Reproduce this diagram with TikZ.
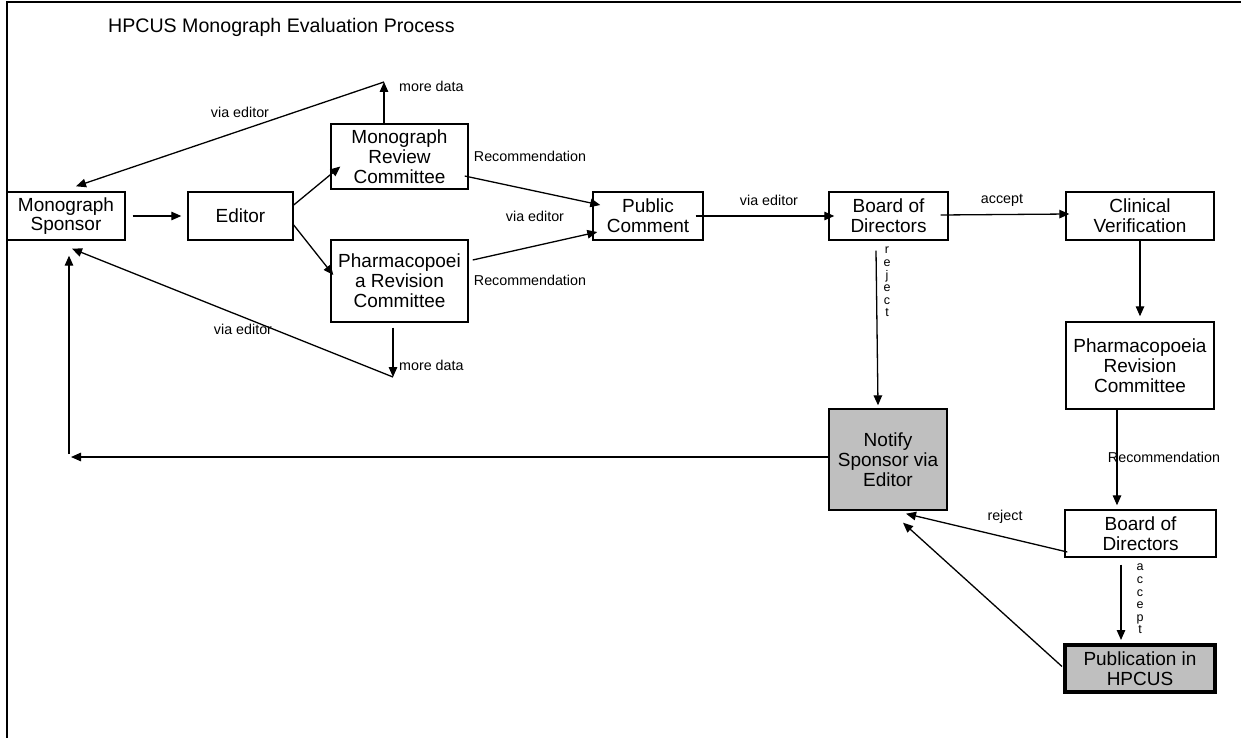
\documentclass[tikz,border=0pt]{standalone}
\usepackage{fontspec}
\setmainfont{Liberation Sans}
\usetikzlibrary{arrows.meta,calc}
\begin{document}
\begin{tikzpicture}[x=1pt,y=-1pt,
  box/.style={draw=black,line width=1.4pt,align=center,inner sep=0pt,
    font=\fontsize{19}{19.8}\selectfont},
  grayfill/.style={fill=black!25},
  conn/.style={draw=black,line width=1.3pt},
  arr/.style={conn,-{Triangle[length=10pt,width=8.5pt]}},
  lbl/.style={font=\fontsize{14.3}{15}\selectfont,inner sep=0pt},
  vlbl/.style={font=\fontsize{12.5}{12.6}\selectfont,inner sep=0pt,align=center}]
\useasboundingbox (0,0) rectangle (1241,738);
% frame
\draw[line width=2pt] (7,738) -- (7,2) -- (1241,2);
\node[anchor=west,font=\fontsize{19.6}{20}\selectfont,inner sep=0pt] (title) at (108,27) {HPCUS Monograph Evaluation Process};
% nodes
\node[box,minimum width=118pt,minimum height=48pt] (sp) at (66,216) {Monograph\\Sponsor};
\node[box,minimum width=105pt,minimum height=48pt] (ed) at (240.5,216) {Editor};
\node[box,minimum width=137pt,minimum height=65pt] (mrc) at (399.5,156.5) {Monograph\\Review\\Committee};
\node[box,minimum width=137pt,minimum height=82pt] (prc) at (399.5,281) {Pharmacopoei\\a Revision\\Committee};
\node[box,minimum width=110pt,minimum height=48pt] (pc) at (648,216) {Public\\Comment};
\node[box,minimum width=119pt,minimum height=48pt] (bd1) at (888.5,216) {Board of\\Directors};
\node[box,minimum width=148pt,minimum height=48pt] (cv) at (1140,216) {Clinical\\Verification};
\node[box,minimum width=148pt,minimum height=87pt] (prc2) at (1140,365.5) {Pharmacopoeia\\Revision\\Committee};
\node[box,grayfill,minimum width=118pt,minimum height=101pt] (nt) at (888,459.5) {Notify\\Sponsor via\\Editor};
\node[box,minimum width=151pt,minimum height=47pt] (bd2) at (1140.5,533.5) {Board of\\Directors};
\node[box,grayfill,line width=4pt,minimum width=150pt,minimum height=47pt] (pub) at (1140,668.5) {Publication in\\HPCUS};
% free-end coordinates
\coordinate (md1) at (384,82);
\coordinate (md2) at (393,377);
\coordinate (lc) at (71,457);
\coordinate (lcv) at (69,454);
% connectors
\draw[arr,shorten <=7pt,shorten >=6pt] (sp.east) -- (ed.west);
\draw[arr] ($(ed.east)+(0,-11)$) -- ($(mrc.west)+(10,10)$);
\draw[arr] ($(ed.east)+(0,9)$) -- ($(prc.west)+(3,-6)$);
\draw[arr] ($(mrc.east)+(-4,19.5)$) -- ($(pc.west)+(8,-11)$);
\draw[arr] ($(prc.east)+(4,-21)$) -- ($(pc.west)+(5,16)$);
\draw[arr] ($(mrc.north)+(-15.5,0)$) -- (md1);
\draw[arr] (md1) -- ($(sp.north)+(10,-5)$);
\draw[arr] ($(prc.south)+(-6.5,5)$) -- (md2);
\draw[arr] (md2) -- ($(sp.south)+(6,8)$);
\draw[arr] ($(pc.east)+(-8,0)$) -- ($(bd1.west)+(6,0)$);
\draw[arr] ($(bd1.east)+(-8,-1)$) -- ($(cv.west)+(4,-2)$);
\draw[arr,shorten >=5pt] (cv.south) -- (prc2.north);
\draw[arr] ($(bd1.south)+(-12.5,10)$) -- ($(nt.north)+(-10,-3)$);
\draw[arr] ($(nt.west)+(0,-2.5)$) -- (lc);
\draw[arr] (lcv) -- ($(sp.south)+(3,15)$);
\draw[arr] ($(prc2.south)+(-23,0)$) -- ($(bd2.north)+(-23.5,-4)$);
\draw[arr] ($(bd2.west)+(3,18.5)$) -- ($(nt.south)+(18,3)$);
\draw[arr] ($(bd2.south)+(-19.5,7)$) -- ($(pub.north)+(-19,-3)$);
\draw[arr] ($(pub.west)+(-1,-2)$) -- ($(nt.south)+(15,12)$);
% labels
\node[lbl] (l1) at (240,112) {via editor};
\node[lbl] (l2) at (243,329) {via editor};
\node[lbl,anchor=west] (l3) at (399,86) {more data};
\node[lbl,anchor=west] (l4) at (399,365) {more data};
\node[lbl] (l5) at (530,156) {Recommendation};
\node[lbl] (l6) at (530,280) {Recommendation};
\node[lbl] (l7) at (535,216) {via editor};
\node[lbl] (l8) at (769,200) {via editor};
\node[lbl] (l9) at (1002,200) {accept};
\node[lbl] (l10) at (1164,457) {Recommendation};
\node[lbl] (l11) at (1005,517) {reject};
\node[vlbl] (l12) at (887,282) {r\\e\\j\\e\\c\\t};
\node[vlbl] (l13) at (1140,599) {a\\c\\c\\e\\p\\t};
\end{tikzpicture}
\end{document}
